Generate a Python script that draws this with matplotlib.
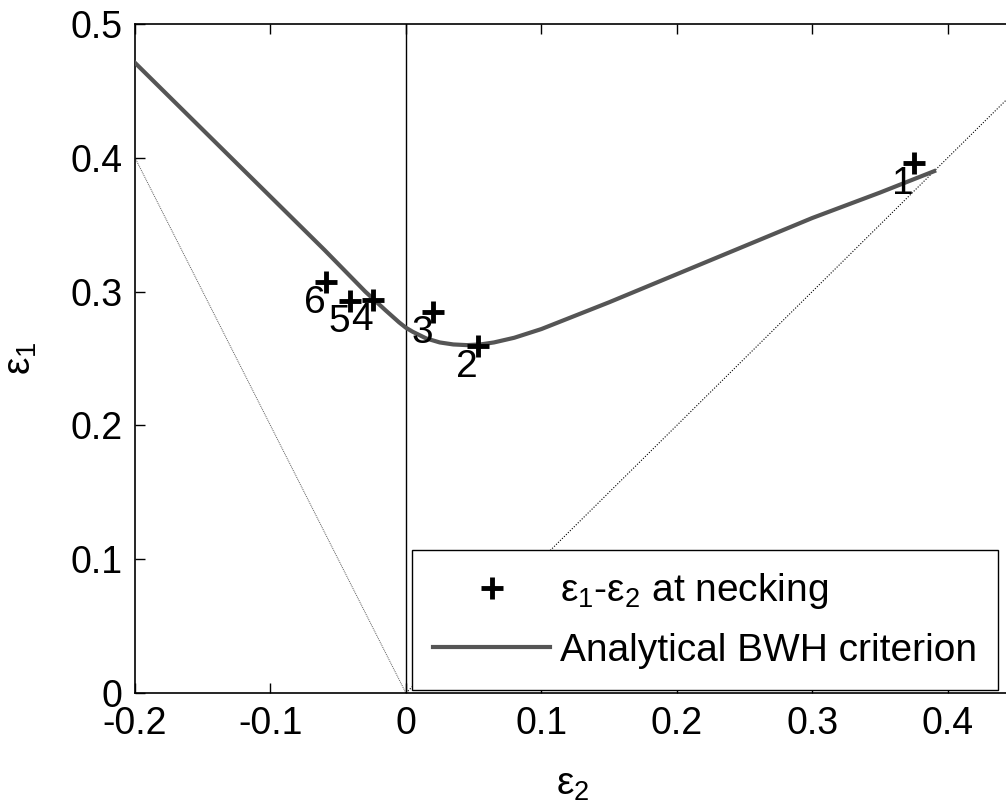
import matplotlib.pyplot as plt
import numpy as np

plt.rcParams['font.family'] = ['Liberation Sans', 'DejaVu Sans']
plt.rcParams['mathtext.fontset'] = 'custom'
plt.rcParams['mathtext.rm'] = 'Liberation Sans'
plt.rcParams['mathtext.it'] = 'Liberation Sans'

# analytical BWH criterion curve (eps2, eps1)
bwh_e2 = [-0.2, -0.15, -0.1, -0.06, -0.03, -0.015, -0.005, 0.0, 0.005, 0.015,
          0.025, 0.035, 0.045, 0.055, 0.065, 0.08, 0.1, 0.125, 0.15, 0.2,
          0.25, 0.3, 0.35, 0.39]
bwh_e1 = [0.471, 0.421, 0.371, 0.331, 0.300, 0.286, 0.277, 0.273, 0.270, 0.265,
          0.262, 0.2605, 0.2600, 0.2605, 0.2620, 0.2655, 0.272, 0.282, 0.292, 0.313,
          0.334, 0.355, 0.374, 0.390]

# measured strains at necking
neck_e2 = [0.375, 0.053, 0.020, -0.024, -0.041, -0.059]
neck_e1 = [0.396, 0.259, 0.285, 0.294, 0.293, 0.307]
neck_labels = ['1', '2', '3', '4', '5', '6']

# reference strain paths
uniax_e2 = [-0.2, 0.0]
uniax_e1 = [0.4, 0.0]
equib_e2 = [0.0, 0.5]
equib_e1 = [0.0, 0.5]

fig = plt.figure(figsize=(10.06, 8.10), dpi=100)
ax = fig.add_axes([135 / 1006, (810 - 693) / 810, 875 / 1006, 669 / 810])

ax.plot(uniax_e2, uniax_e1, color='0.35', lw=0.7, ls=(0, (1, 1)))
ax.plot(equib_e2, equib_e1, color='k', lw=0.8, ls=(0, (1, 1.5)))
ax.axvline(0, color='k', lw=1.0)

ax.plot(neck_e2, neck_e1, '+', color='k', ms=16, mew=3.5,
        label='ε$_1$-ε$_2$ at necking', zorder=4)
ax.plot(bwh_e2, bwh_e1, '-', color='#555555', lw=3.0,
        label='Analytical BWH criterion', zorder=3)

for x, y, s in zip(neck_e2, neck_e1, neck_labels):
    ax.annotate(s, (x, y), xytext=(-8, -15), textcoords='offset points',
                ha='center', va='center', fontsize=28, zorder=5)

ax.set_xlim(-0.2, 0.446)
ax.set_ylim(0, 0.5)
ax.set_xticks([-0.2, -0.1, 0, 0.1, 0.2, 0.3, 0.4])
ax.set_xticklabels(['-0.2', '-0.1', '0', '0.1', '0.2', '0.3', '0.4'])
ax.set_yticks([0, 0.1, 0.2, 0.3, 0.4, 0.5])
ax.set_yticklabels(['0', '0.1', '0.2', '0.3', '0.4', '0.5'])
ax.tick_params(direction='in', length=7, width=1, labelsize=27, pad=9,
               top=True, right=False)
for sp in ax.spines.values():
    sp.set_linewidth(1.2)
ax.spines['right'].set_visible(False)

ax.set_xlabel('ε$_2$', fontsize=28)
ax.set_ylabel('ε$_1$', fontsize=28)
ax.xaxis.set_label_coords(0.5, -0.11)
ax.yaxis.set_label_coords(-0.11, 0.5)

leg = ax.legend(loc='lower right', bbox_to_anchor=(998 / 1006, (810 - 690) / 810),
                bbox_transform=fig.transFigure, borderaxespad=0, fontsize=28,
                fancybox=False, framealpha=1, edgecolor='k', handlelength=3.0,
                handletextpad=0.25, labelspacing=0.55, borderpad=0.55)
leg.get_frame().set_linewidth(1.0)

fig.savefig('out.png', dpi=100)
